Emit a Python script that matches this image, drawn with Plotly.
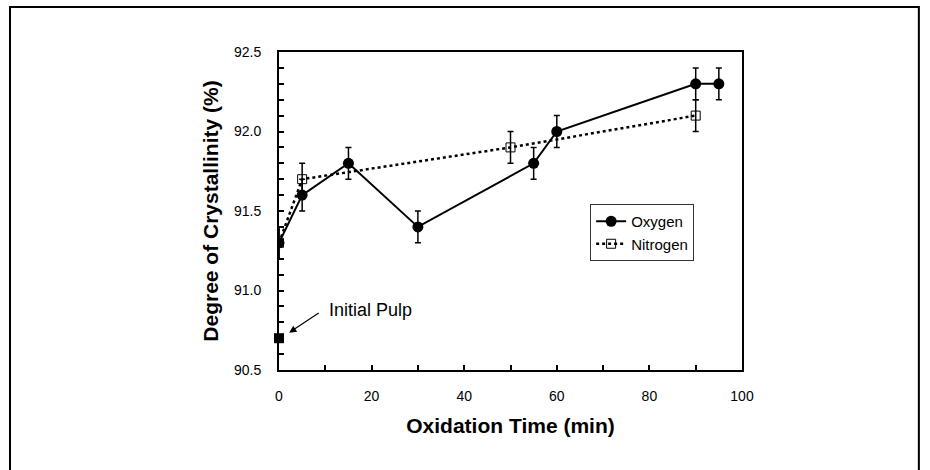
import plotly.graph_objects as go

oxy_time = [0, 5, 15, 30, 55, 60, 90, 95]
oxy_cryst = [91.3, 91.6, 91.8, 91.4, 91.8, 92.0, 92.3, 92.3]
oxy_err = [0.1, 0.1, 0.1, 0.1, 0.1, 0.1, 0.1, 0.1]

nit_time = [0, 5, 50, 90]
nit_cryst = [91.3, 91.7, 91.9, 92.1]
nit_err = [0.1, 0.1, 0.1, 0.1]

pulp_time = [0]
pulp_cryst = [90.7]

FONT = "Liberation Sans, Arial, sans-serif"

fig = go.Figure()
fig.add_trace(go.Scatter(
    x=nit_time, y=nit_cryst, name="Nitrogen", mode="lines+markers",
    line=dict(color="black", width=2.5, dash="dot"),
    marker=dict(symbol="square-open", size=9, color="black", line=dict(width=1)),
    error_y=dict(type="data", array=nit_err, color="black", thickness=1.5, width=3),
))
fig.add_trace(go.Scatter(
    x=oxy_time, y=oxy_cryst, name="Oxygen", mode="lines+markers",
    line=dict(color="black", width=2),
    marker=dict(symbol="circle", size=11, color="black"),
    error_y=dict(type="data", array=oxy_err, color="black", thickness=1.5, width=3),
))
fig.add_trace(go.Scatter(
    x=pulp_time, y=pulp_cryst, mode="markers", showlegend=False,
    marker=dict(symbol="square", size=10, color="black"),
    cliponaxis=False,
))

axis_common = dict(
    showline=True, linecolor="black", linewidth=2, mirror=True,
    ticks="inside", ticklen=5, tickwidth=1.5, tickcolor="black",
    showgrid=False, zeroline=False,
    tickfont=dict(family=FONT, size=14, color="black"),
)

fig.update_xaxes(
    range=[0, 100], dtick=20, tick0=0,
    minor=dict(dtick=10, ticks="inside", ticklen=5, tickwidth=1.5, tickcolor="black"),
    title=dict(text="<b>Oxidation Time (min)</b>", font=dict(family=FONT, size=21, color="black"), standoff=16),
    ticklabelstandoff=12,
    **axis_common,
)
fig.update_yaxes(
    range=[90.5, 92.5], dtick=0.5, tick0=90.5, tickformat=".1f",
    minor=dict(dtick=0.1, ticks="inside", ticklen=5, tickwidth=1.5, tickcolor="black"),
    title=dict(text="<b>Degree of Crystallinity (%)</b>", font=dict(family=FONT, size=21, color="black"), standoff=10),
    ticklabelstandoff=13,
    **axis_common,
)

fig.add_annotation(
    x=2.2, y=90.735, xref="x", yref="y", ax=8.9, ay=90.865, axref="x", ayref="y",
    text="", showarrow=True, arrowhead=2, arrowsize=1.2, arrowwidth=1.2, arrowcolor="black",
)
fig.add_annotation(
    x=10.4, y=90.877, xref="x", yref="y", text="Initial Pulp", showarrow=False,
    xanchor="left", yanchor="middle", font=dict(family=FONT, size=18, color="black"),
)

fig.add_shape(type="rect", xref="paper", yref="paper",
              x0=-0.581, x1=1.382, y0=-0.35, y1=1.1415,
              line=dict(color="black", width=2), layer="above")

fig.update_layout(
    width=930, height=470,
    margin=dict(l=279, r=188, t=52, b=100),
    paper_bgcolor="white", plot_bgcolor="white",
    showlegend=True,
    legend=dict(
        x=0.672, y=0.522, xanchor="left", yanchor="top",
        bordercolor="#333333", borderwidth=1, bgcolor="white",
        font=dict(family=FONT, size=15, color="black"),
        traceorder="reversed", itemwidth=30,
        tracegroupgap=0,
    ),
)

fig.write_html("out.html", config={"displayModeBar": False},
               post_script="document.body.style.margin='0';")
